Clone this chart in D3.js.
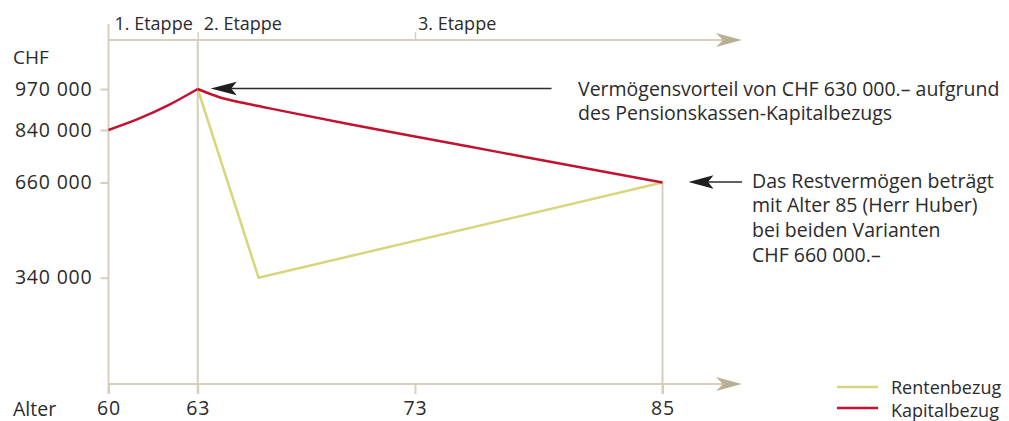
<!DOCTYPE html>
<html>
<head>
<meta charset="utf-8">
<script src="https://cdn.jsdelivr.net/npm/d3@7"></script>
<style>
  html, body { margin: 0; padding: 0; background: #fff; }
  svg { display: block; }
  text { font-family: "Open Sans", "Noto Sans", sans-serif; fill: #2b2b2b; }
</style>
</head>
<body>
<svg id="chart" width="1009" height="421"></svg>
<script>
// ---- data ----
const ageTicks = [60, 63, 73, 85];
const chfTicks = [340000, 660000, 840000, 970000];
const etappeLabels = ["1. Etappe", "2. Etappe", "3. Etappe"];
const etappeStarts = [60, 63, 73];

const kapitalAges   = [60, 61, 62, 63, 64, 65, 66, 67, 70, 73, 77, 81, 85];
const kapitalValues = [840000, 875000, 918000, 970000, 944000, 927000, 913000, 899000, 858000, 818000, 765000, 712000, 660000];

const rentenAges   = [63, 65.8, 85];
const rentenValues = [970000, 340000, 660000];

const seriesNames = ["Rentenbezug", "Kapitalbezug"];
const note1 = ["Vermögensvorteil von CHF 630 000.– aufgrund", "des Pensionskassen-Kapitalbezugs"];
const note2 = ["Das Restvermögen beträgt", "mit Alter 85 (Herr Huber)", "bei beiden Varianten", "CHF 660 000.–"];

// ---- styling ----
const axisCol = "#d6cfbc";
const axisHead = "#b8b097";
const redCol = "#c3122f";
const yelCol = "#d8d67c";
const inkCol = "#2b2b2b";
const fs = 18;
const fsBig = 19.5;

const svg = d3.select("#chart");

const x = d3.scaleLinear().domain([60, 63, 73, 85]).range([108.5, 197.7, 415, 662.5]);
const y = d3.scaleLinear().domain([0, 340000, 660000, 840000, 970000]).range([384, 277.7, 182.5, 130, 89]);

const axisEndX = 742;
const topY = 40;

// vertical reference lines
svg.append("line").attr("x1", x(63)).attr("x2", x(63)).attr("y1", topY).attr("y2", y(0) + 10)
  .attr("stroke", axisCol).attr("stroke-width", 2);
svg.append("line").attr("x1", x(85)).attr("x2", x(85)).attr("y1", y(660000)).attr("y2", y(0) + 10)
  .attr("stroke", axisCol).attr("stroke-width", 2);

// left axis line
svg.append("line").attr("x1", x(60)).attr("x2", x(60)).attr("y1", 24).attr("y2", y(0) + 10)
  .attr("stroke", axisCol).attr("stroke-width", 2);

// y axis ticks
const yAxis = d3.axisLeft(y).tickValues(chfTicks).tickSize(8).tickPadding(8)
  .tickFormat(d => d3.format(",")(d).replace(/,/g, " "));
const gy = svg.append("g").attr("transform", `translate(${x(60)},0)`).call(yAxis);
gy.select(".domain").remove();
gy.selectAll(".tick line").attr("stroke", axisCol).attr("stroke-width", 2);
gy.selectAll(".tick text").attr("font-size", fsBig).attr("fill", inkCol)
  .attr("letter-spacing", 0.8)
  .style("font-family", '"Open Sans", sans-serif');

// bottom axis
const xAxis = d3.axisBottom(x).tickValues(ageTicks).tickSize(10).tickPadding(7).tickFormat(d3.format("d"));
const gx = svg.append("g").attr("transform", `translate(0,${y(0)})`).call(xAxis);
gx.select(".domain").remove();
gx.selectAll(".tick line").attr("stroke", axisCol).attr("stroke-width", 2);
gx.selectAll(".tick text").attr("font-size", fsBig).attr("fill", inkCol)
  .attr("letter-spacing", 0.8)
  .style("font-family", '"Open Sans", sans-serif');
svg.append("line").attr("x1", x(60)).attr("x2", axisEndX - 16).attr("y1", y(0)).attr("y2", y(0))
  .attr("stroke", axisCol).attr("stroke-width", 2);

// top axis
const tAxis = d3.axisTop(x).tickValues([63, 73]).tickSize(8).tickFormat("");
const gt = svg.append("g").attr("transform", `translate(0,${topY})`).call(tAxis);
gt.select(".domain").remove();
gt.selectAll(".tick line").attr("stroke", axisCol).attr("stroke-width", 1.5);
svg.append("line").attr("x1", x(60)).attr("x2", axisEndX - 16).attr("y1", topY).attr("y2", topY)
  .attr("stroke", axisCol).attr("stroke-width", 2);

// arrowheads (dir = 1 points right, -1 points left)
function stealth(tipX, tipY, len, half, notch, fill, dir) {
  const b = tipX - dir * len, n = tipX - dir * (len - notch);
  svg.append("path")
    .attr("d", `M${tipX},${tipY} L${b},${tipY - half} L${n},${tipY} L${b},${tipY + half} Z`)
    .attr("fill", fill);
}
stealth(axisEndX, y(0), 26, 7, 7, axisHead, 1);
stealth(axisEndX, topY, 26, 7, 7, axisHead, 1);

// etappe labels
svg.selectAll("text.etappe").data(etappeLabels).join("text")
  .attr("class", "etappe")
  .attr("x", (d, i) => x(etappeStarts[i]) + (i === 2 ? 3 : 6))
  .attr("y", 29.5).attr("font-size", fs).text(d => d);

// axis titles
svg.append("text").attr("x", 13).attr("y", 64).attr("font-size", 19).text("CHF");
svg.append("text").attr("x", 13).attr("y", 415.5).attr("font-size", fsBig).text("Alter");

// series lines
const line = d3.line().x(d => x(d[0])).y(d => y(d[1]));
const kap = kapitalAges.map((a, i) => [a, kapitalValues[i]]);
const ren = rentenAges.map((a, i) => [a, rentenValues[i]]);

svg.append("path").datum(ren).attr("d", line.curve(d3.curveLinear))
  .attr("fill", "none").attr("stroke", yelCol).attr("stroke-width", 2.5).attr("stroke-linejoin", "miter");

const kap1 = kap.filter(d => d[0] <= 63);
const kap2 = kap.filter(d => d[0] >= 63);
const smooth = d3.line().x(d => x(d[0])).y(d => y(d[1])).curve(d3.curveMonotoneX);
svg.append("path").datum(kap1).attr("d", smooth)
  .attr("fill", "none").attr("stroke", redCol).attr("stroke-width", 2.5);
svg.append("path").datum(kap2).attr("d", smooth)
  .attr("fill", "none").attr("stroke", redCol).attr("stroke-width", 2.5);

// annotation 1
const a1y = y(970000) - 0.5;
const a1tip = x(63) + 13;
svg.append("line").attr("x1", a1tip + 20).attr("x2", 551.5).attr("y1", a1y).attr("y2", a1y)
  .attr("stroke", inkCol).attr("stroke-width", 1.3);
stealth(a1tip, a1y, 26, 6.7, 5.5, "#1e1e1e", -1);
svg.append("text").attr("font-size", fsBig).selectAll("tspan").data(note1).join("tspan")
  .attr("x", 578).attr("y", (d, i) => 95.5 + i * 24.8).text(d => d);

// annotation 2
const a2y = y(660000) - 0.5;
const a2tip = x(85) + 26;
svg.append("line").attr("x1", a2tip + 18).attr("x2", 742).attr("y1", a2y).attr("y2", a2y)
  .attr("stroke", inkCol).attr("stroke-width", 1.3);
stealth(a2tip, a2y, 25, 6.7, 5.5, "#1e1e1e", -1);
svg.append("text").attr("font-size", fsBig).selectAll("tspan").data(note2).join("tspan")
  .attr("x", 752).attr("y", (d, i) => 187.5 + i * 24.8).text(d => d);

// legend
const legY = [387, 408];
const legBase = [393.5, 416.5];
const legCols = [yelCol, redCol];
seriesNames.forEach((name, i) => {
  svg.append("line").attr("x1", 837).attr("x2", 878).attr("y1", legY[i]).attr("y2", legY[i])
    .attr("stroke", legCols[i]).attr("stroke-width", 2.5);
  svg.append("text").attr("x", 891).attr("y", legBase[i]).attr("font-size", 18).text(name);
});
</script>
</body>
</html>
